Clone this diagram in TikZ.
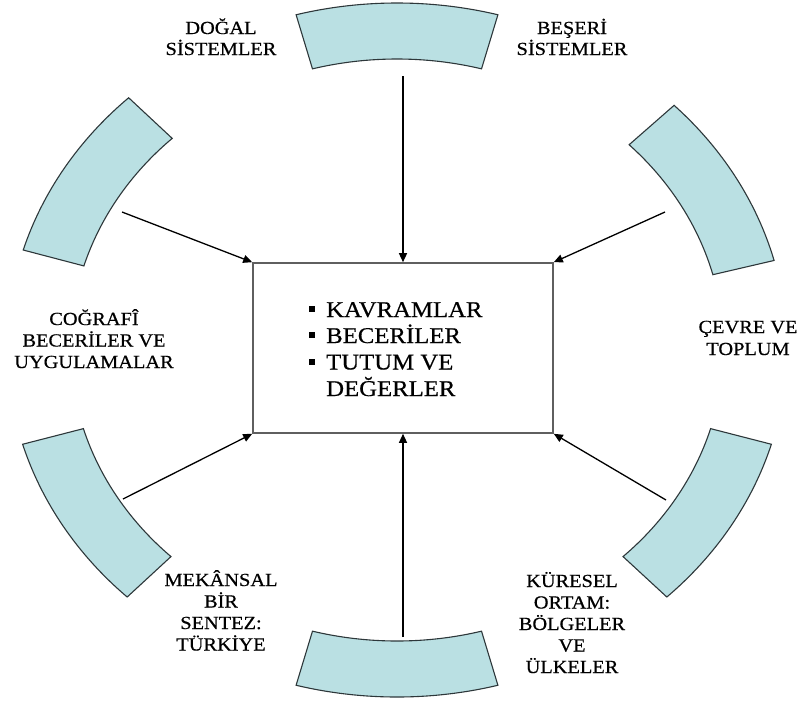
\documentclass[tikz,border=0pt]{standalone}
\usepackage{fontspec}
\setmainfont{Liberation Serif}[FakeStretch=1.1,FakeBold=0.5]
\usetikzlibrary{arrows.meta}
\definecolor{sectorfill}{RGB}{186,224,227}
\definecolor{sectorline}{RGB}{45,55,58}
\definecolor{boxline}{RGB}{95,95,95}
\newcommand\ringpart[2]{\draw[sector] (#1:345) arc[start angle=#1,end angle=#2,radius=345] -- (#2:289) arc[start angle=#2,end angle=#1,radius=289] -- cycle;}
\begin{document}
\begin{tikzpicture}[x=1pt,y=-1pt,
  sector/.style={fill=sectorfill,draw=sectorline,line width=1.1pt,line join=miter},
  lab/.style={font=\fontsize{18.5}{21}\selectfont,anchor=base,inner sep=0},
  item/.style={font=\fontsize{22.5}{26}\selectfont,anchor=base west,inner sep=0},
  conn/.style={line width=1.3pt,-{Triangle[length=9pt,width=8pt]}},
  bul/.style={fill=black}
]
\useasboundingbox (0,0) rectangle (802,705);
% ring sectors
\begin{scope}[shift={(397,348)},xscale=1.13]
  \ringpart{-75}{-105}
  \ringpart{-133.5}{-163.5}
  \ringpart{-196.2}{-226.2}
  \ringpart{-313.8}{-343.8}
  \ringpart{-14.7}{-44.7}
  \begin{scope}[shift={(0,4)}]
    \ringpart{-255}{-285}
  \end{scope}
\end{scope}
% central box
\node[draw=boxline,line width=1.6pt,minimum width=300pt,minimum height=170pt,inner sep=0] (core) at (403,348) {};
\fill[bul] (309,306) rectangle (315,312);
\fill[bul] (309,332) rectangle (315,338);
\fill[bul] (309,358.5) rectangle (315,364.5);
\node[item] (i1) at (326,317) {KAVRAMLAR};
\node[item] (i2) at (326,343) {BECERİLER};
\node[item] (i3) at (326,369.5) {TUTUM VE};
\node[item] (i4) at (326,396) {DEĞERLER};
% connector starts
\coordinate (sTop) at (403,76);
\coordinate (sUL) at (122,212);
\coordinate (sUR) at (665,212);
\coordinate (sLL) at (123,499);
\coordinate (sLR) at (666,500);
\coordinate (sBot) at (403,637);
\draw[conn] (sTop) -- (core.north);
\draw[conn] (sUL) -- (core.north west);
\draw[conn] (sUR) -- (core.north east);
\draw[conn] (sLL) -- (core.south west);
\draw[conn] (sLR) -- (core.south east);
\draw[conn] (sBot) -- (core.south);
% labels
\node[lab] (a1) at (221,34) {DOĞAL};
\node[lab] (a2) at (221,55) {SİSTEMLER};
\node[lab] (b1) at (572,34) {BEŞERİ};
\node[lab] (b2) at (572,55) {SİSTEMLER};
\node[lab] (c1) at (94,325) {COĞRAFÎ};
\node[lab] (c2) at (94,346.5) {BECERİLER VE};
\node[lab] (c3) at (94,368) {UYGULAMALAR};
\node[lab] (d1) at (748,333) {ÇEVRE VE};
\node[lab] (d2) at (748,355) {TOPLUM};
\node[lab] (e1) at (221,586) {MEKÂNSAL};
\node[lab] (e2) at (221,607.5) {BİR};
\node[lab] (e3) at (221,629) {SENTEZ:};
\node[lab] (e4) at (221,650.5) {TÜRKİYE};
\node[lab] (f1) at (572,587) {KÜRESEL};
\node[lab] (f2) at (572,608.5) {ORTAM:};
\node[lab] (f3) at (572,630) {BÖLGELER};
\node[lab] (f4) at (572,651.5) {VE};
\node[lab] (f5) at (572,673) {ÜLKELER};
\end{tikzpicture}
\end{document}
